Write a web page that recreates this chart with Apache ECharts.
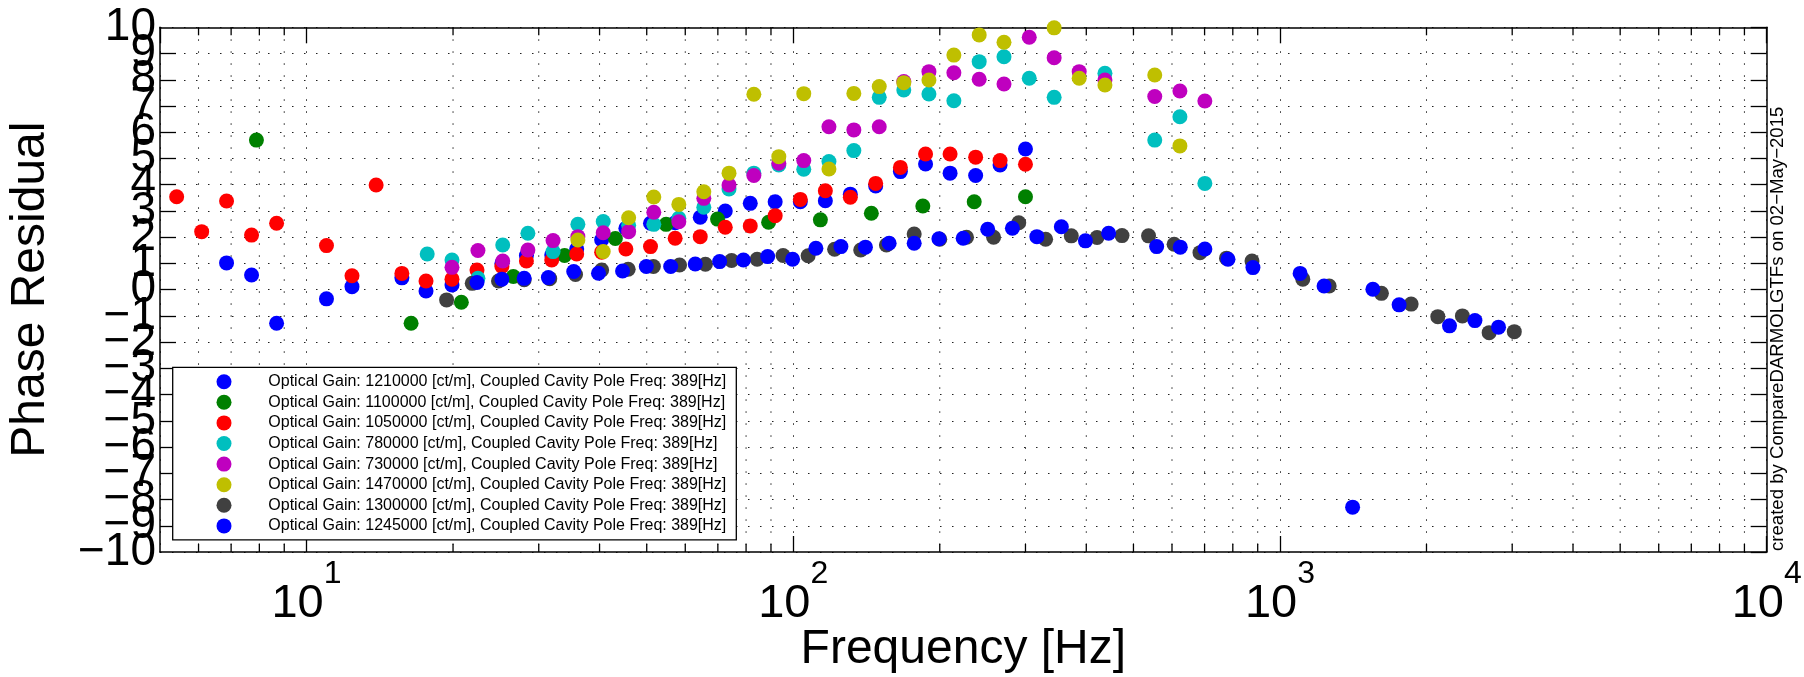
<!DOCTYPE html>
<html>
<head>
<meta charset="utf-8">
<script src="https://cdn.jsdelivr.net/npm/echarts@6/dist/echarts.min.js"></script>
<style>
html,body{margin:0;padding:0;background:#fff;}
#chart{width:1804px;height:677px;}
</style>
</head>
<body>
<div id="chart"></div>
<script>
// ---- data (frequency [Hz], phase residual) ----
const seriesNames = [
  'Optical Gain: 1210000 [ct/m], Coupled Cavity Pole Freq: 389[Hz]',
  'Optical Gain: 1100000 [ct/m], Coupled Cavity Pole Freq: 389[Hz]',
  'Optical Gain: 1050000 [ct/m], Coupled Cavity Pole Freq: 389[Hz]',
  'Optical Gain: 780000 [ct/m], Coupled Cavity Pole Freq: 389[Hz]',
  'Optical Gain: 730000 [ct/m], Coupled Cavity Pole Freq: 389[Hz]',
  'Optical Gain: 1470000 [ct/m], Coupled Cavity Pole Freq: 389[Hz]',
  'Optical Gain: 1300000 [ct/m], Coupled Cavity Pole Freq: 389[Hz]',
  'Optical Gain: 1245000 [ct/m], Coupled Cavity Pole Freq: 389[Hz]'
];
const seriesColors = ['#0000FF', '#008000', '#FF0000', '#00BFBF', '#BF00BF', '#BFBF00', '#404040', '#0000FF'];

const freq1210 = [6.85, 7.71, 8.68, 10.99, 12.4, 15.7, 17.6, 19.9, 25.2, 28.3, 31.9, 35.9, 40.4, 45.3, 50.9, 57.2, 64.4, 72.5, 81.6, 91.8, 103.4, 116.4, 131, 147.7, 166, 187, 210, 237, 266, 300];
const val1210  = [1.02, 0.56, -1.28, -0.35, 0.115, 0.45, -0.05, 0.18, 1.0, 1.30, 1.32, 1.55, 1.90, 2.34, 2.53, 2.55, 2.76, 3.00, 3.29, 3.35, 3.35, 3.39, 3.64, 3.95, 4.50, 4.79, 4.44, 4.35, 4.75, 5.36];

const freq1100 = [7.89, 16.4, 20.8, 26.6, 33.9, 43.1, 54.8, 69.9, 89, 113.7, 144.7, 184.6, 235.4, 300];
const val1100  = [5.70, -1.28, -0.48, 0.50, 1.30, 1.95, 2.49, 2.69, 2.57, 2.66, 2.91, 3.19, 3.35, 3.54];

const freq1050 = [5.41, 6.09, 6.85, 7.71, 8.68, 10.99, 12.4, 13.9, 15.7, 17.6, 19.9, 22.4, 25.2, 28.3, 31.9, 35.9, 40.4, 45.3, 50.9, 57.2, 64.4, 72.5, 81.6, 91.8, 103.4, 116.4, 131, 147.7, 166, 187, 210, 237, 266, 300];
const val1050  = [3.54, 2.21, 3.38, 2.08, 2.53, 1.68, 0.53, 3.99, 0.62, 0.33, 0.40, 0.75, 0.88, 1.09, 1.13, 1.36, 1.43, 1.55, 1.64, 1.96, 2.02, 2.38, 2.43, 2.82, 3.44, 3.77, 3.52, 4.05, 4.66, 5.17, 5.17, 5.05, 4.92, 4.78];

const freq780 = [17.7, 19.9, 22.5, 25.3, 28.5, 32.1, 36.1, 40.7, 45.9, 51.7, 58.2, 65.5, 73.8, 83, 93.4, 105.1, 118.4, 133.2, 150.2, 168.7, 190, 213.8, 241, 271, 305.4, 343.6, 436.9, 553, 622.9, 700.9];
const val780  = [1.36, 1.13, 0.43, 1.70, 2.15, 1.45, 2.49, 2.60, 2.45, 2.49, 2.72, 3.14, 3.84, 4.44, 4.75, 4.59, 4.88, 5.30, 7.33, 7.61, 7.46, 7.20, 8.69, 8.88, 8.06, 7.33, 8.25, 5.70, 6.59, 4.05];

const freq730 = [19.9, 22.5, 25.3, 28.5, 32.1, 36.1, 40.7, 45.9, 51.7, 58.2, 65.5, 73.8, 83, 93.4, 105.1, 118.4, 133.2, 150.2, 168.7, 190, 213.8, 241, 271, 305.4, 343.6, 386.8, 436.9, 553, 622.9, 700.9];
const val730  = [0.85, 1.49, 1.09, 1.51, 1.87, 2.02, 2.17, 2.21, 2.95, 2.59, 3.48, 3.99, 4.35, 4.82, 4.92, 6.21, 6.09, 6.21, 7.93, 8.31, 8.27, 8.02, 7.84, 9.62, 8.84, 8.31, 7.99, 7.36, 7.57, 7.19];

const freq1470 = [36.1, 40.7, 45.9, 51.7, 58.2, 65.5, 73.8, 83, 93.4, 105.1, 118.4, 133.2, 150.2, 168.7, 190, 213.8, 241, 271, 343.6, 386.8, 436.9, 553, 622.9];
const val1470  = [1.89, 1.45, 2.74, 3.53, 3.25, 3.73, 4.44, 7.45, 5.07, 7.47, 4.60, 7.48, 7.74, 7.89, 7.99, 8.94, 9.71, 9.43, 9.98, 8.06, 7.80, 8.18, 5.48];

const freq1300 = [19.4, 21.9, 24.8, 28, 31.6, 35.7, 40.4, 45.8, 51.6, 58.4, 66, 74.7, 84.3, 95.3, 107.3, 121.6, 137.6, 155.4, 177.2, 200, 227, 258, 290.6, 330, 372.6, 420.9, 473.6, 537, 606, 685, 776.5, 876, 1114, 1262, 1616, 1860, 2110, 2370, 2690, 3030];
const val1300  = [-0.39, 0.24, 0.33, 0.38, 0.42, 0.58, 0.75, 0.78, 0.88, 0.94, 0.97, 1.11, 1.16, 1.30, 1.29, 1.54, 1.51, 1.70, 2.12, 1.92, 2.00, 2.00, 2.55, 1.92, 2.05, 1.99, 2.06, 2.05, 1.73, 1.41, 1.20, 1.09, 0.40, 0.14, -0.14, -0.55, -1.03, -1.00, -1.64, -1.60];

const freq1245 = [22.4, 25.2, 28, 31.4, 35.4, 39.8, 44.6, 49.9, 56, 62.9, 70.6, 79, 88.6, 99.7, 111.3, 125.3, 140.7, 157.4, 177.2, 199.2, 223.4, 250.9, 282, 316.6, 355.5, 398.4, 444.6, 558, 624, 701, 782, 880, 1100, 1232, 1410, 1552, 1757, 2230, 2515, 2812];
const val1245  = [0.27, 0.40, 0.43, 0.46, 0.69, 0.625, 0.71, 0.88, 0.88, 0.98, 1.07, 1.13, 1.26, 1.16, 1.58, 1.64, 1.62, 1.77, 1.77, 1.94, 1.96, 2.30, 2.34, 2.02, 2.40, 1.86, 2.15, 1.64, 1.62, 1.55, 1.16, 0.84, 0.62, 0.14, -8.29, 0.015, -0.58, -1.38, -1.18, -1.43];

const seriesFreqs = [freq1210, freq1100, freq1050, freq780, freq730, freq1470, freq1300, freq1245];
const seriesVals  = [val1210, val1100, val1050, val780, val730, val1470, val1300, val1245];

// axis ticks
const xMin = 5, xMax = 10000;
const yMin = -10, yMax = 10, yStep = 1;
const decades = [1, 10, 100, 1000];
const minorMultipliers = [2, 3, 4, 5, 6, 7, 8, 9];
const xLabel = 'Frequency [Hz]';
const yLabel = 'Phase Residual';
const sideNote = 'created by CompareDARMOLGTFs on 02\u2212May\u22122015';

// ---- chart ----
const FONT = '"Liberation Sans", Arial, Helvetica, sans-serif';
const minorX = [];
decades.forEach(d => minorMultipliers.forEach(m => { const v = d * m; if (v > xMin && v < xMax) minorX.push([v, 0]); }));

const gridDot = { type: [1.5, 10.5], color: '#222', width: 1 };
const fmtY = v => (v < 0 ? '\u2212' + (-v) : String(v));

const chart = echarts.init(document.getElementById('chart'), null, { renderer: 'canvas' });

const scatterSeries = seriesNames.map((name, i) => ({
  name: name,
  type: 'scatter',
  symbol: 'circle',
  symbolSize: 15,
  itemStyle: { color: seriesColors[i], opacity: 1 },
  z: 3,
  data: seriesFreqs[i].map((f, k) => [f, seriesVals[i][k]])
}));

const option = {
  animation: false,
  backgroundColor: '#fff',
  textStyle: { fontFamily: FONT },
  grid: { left: 160, top: 27.3, right: 37.3, bottom: 125, containLabel: false, outerBoundsMode: 'none' },
  xAxis: [{
    type: 'log', logBase: 10, min: xMin, max: xMax,
    axisLine: { show: true, onZero: false, lineStyle: { color: '#000', width: 1.5 } },
    axisTick: { show: true, inside: true, length: 16, lineStyle: { color: '#000', width: 1.3 } },
    splitLine: { show: true, lineStyle: gridDot },
    axisLabel: {
      showMinLabel: false,
      margin: 6,
      color: '#000',
      formatter: function (v) {
        const e = Math.round(Math.log10(v));
        if (Math.abs(v - Math.pow(10, e)) / v > 1e-6) return '';
        return '{b|10}{s|' + e + '}';
      },
      rich: {
        b: { fontSize: 47, fontFamily: FONT, color: '#000', lineHeight: 70, verticalAlign: 'bottom' },
        s: { fontSize: 32, fontFamily: FONT, color: '#000', lineHeight: 23, verticalAlign: 'top' }
      }
    },
    name: xLabel, nameLocation: 'middle', nameGap: 74, nameMoveOverlap: false,
    nameTextStyle: { fontSize: 48, fontFamily: FONT, color: '#000', lineHeight: 48 }
  }, {
    type: 'log', logBase: 10, min: xMin, max: xMax, position: 'top',
    axisLine: { show: true, onZero: false, lineStyle: { color: '#000', width: 1.5 } },
    axisTick: { show: true, inside: true, length: 16, lineStyle: { color: '#000', width: 1.3 } },
    splitLine: { show: false },
    axisLabel: { show: false }
  }],
  yAxis: [{
    type: 'value', min: yMin, max: yMax, interval: yStep, position: 'left',
    axisLine: { show: true, onZero: false, lineStyle: { color: '#000', width: 1.5 } },
    axisTick: { show: true, inside: true, length: 16, lineStyle: { color: '#000', width: 1.3 } },
    splitLine: { show: true, lineStyle: gridDot },
    axisLabel: {
      margin: 4, fontSize: 46, fontFamily: FONT, color: '#000', hideOverlap: false,
      showMinLabel: false, showMaxLabel: false,
      formatter: fmtY
    },
    name: yLabel, nameLocation: 'middle', nameGap: 105, nameRotate: 90, nameMoveOverlap: false,
    nameTextStyle: { fontSize: 48, fontFamily: FONT, color: '#000', lineHeight: 48 }
  }, {
    type: 'value', min: yMin, max: yMax, interval: yStep, position: 'right',
    axisLine: { show: true, onZero: false, lineStyle: { color: '#000', width: 1.5 } },
    axisTick: { show: true, inside: true, length: 16, lineStyle: { color: '#000', width: 1.3 } },
    splitLine: { show: false },
    axisLabel: { show: false }
  }, {
    type: 'value', min: yMin, max: yMax, interval: yStep, position: 'left',
    axisLine: { show: false, onZero: false },
    axisTick: { show: false },
    splitLine: { show: false },
    axisLabel: {
      margin: 4, fontSize: 46, fontFamily: FONT, color: '#000', hideOverlap: false,
      showMinLabel: true, showMaxLabel: true,
      formatter: v => (Math.abs(v) === 10 ? fmtY(v) : '')
    }
  }],
  legend: {
    orient: 'vertical', left: 172.7, top: 367.3,
    padding: [4.4, 10, 4, 43.8],
    itemWidth: 15, itemHeight: 15, itemGap: 0.6,
    icon: 'circle',
    backgroundColor: '#fff', borderColor: '#000', borderWidth: 1.3, borderRadius: 0,
    textStyle: { fontFamily: FONT, fontSize: 16, color: '#000', lineHeight: 20, padding: [0, 0, 0, 31.8] },
    selectedMode: false,
    data: seriesNames
  },
  graphic: [{
    type: 'text', x: 1778, y: 551, rotation: Math.PI / 2,
    style: { text: sideNote, fontSize: 18.6, fontFamily: FONT, fill: '#000', align: 'left', verticalAlign: 'middle', textAlign: 'left', textVerticalAlign: 'middle' },
    silent: true
  }],
  series: [{
    type: 'custom', name: 'minorGrid', silent: true, z: 1,
    xAxisIndex: 0, yAxisIndex: 0,
    data: minorX,
    renderItem: function (params, api) {
      const x = api.value(0);
      const top = api.coord([x, yMax]);
      const bot = api.coord([x, yMin]);
      return { type: 'group', children: [
        { type: 'line', shape: { x1: top[0], y1: top[1], x2: bot[0], y2: bot[1] }, style: { stroke: '#222', lineWidth: 1, lineDash: [1.5, 10.5] } },
        { type: 'line', shape: { x1: bot[0], y1: bot[1], x2: bot[0], y2: bot[1] - 8 }, style: { stroke: '#000', lineWidth: 1.3 } },
        { type: 'line', shape: { x1: top[0], y1: top[1], x2: top[0], y2: top[1] + 8 }, style: { stroke: '#000', lineWidth: 1.3 } }
      ] };
    }
  }].concat(scatterSeries)
};
chart.setOption(option);
</script>
</body>
</html>
